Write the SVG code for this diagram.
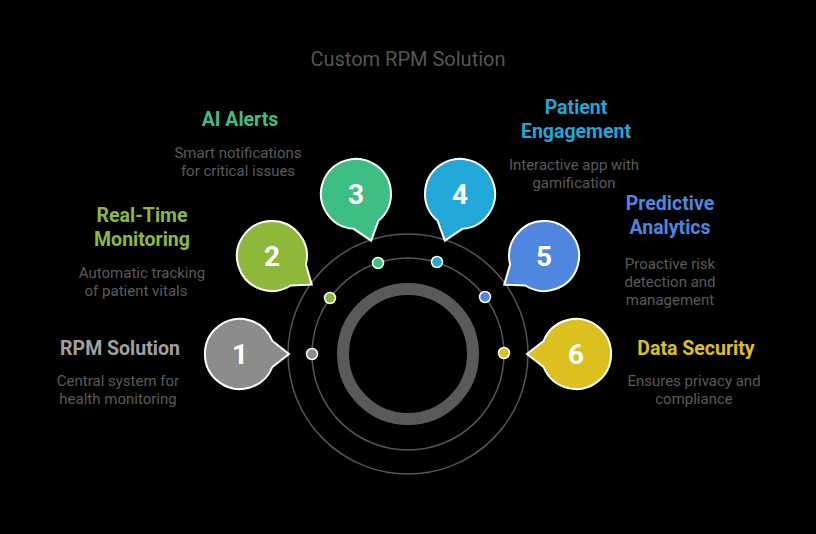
<svg xmlns="http://www.w3.org/2000/svg" width="816" height="534" viewBox="0 0 816 534">
<style>
.t{font-family:Roboto,"Liberation Sans",sans-serif;font-weight:bold;font-size:19.5px}
.d{font-family:Roboto,"Liberation Sans",sans-serif;font-size:15px;fill:#5a5a5a}
.n{font-family:Roboto,"Liberation Sans",sans-serif;font-weight:bold;font-size:28px;fill:#fff;text-anchor:middle}
.b{stroke:#fff;stroke-width:2}
.dot{stroke:#fff;stroke-width:1.5}
</style>
<defs>
<path id="bub" d="M32.4,-13 L49,0 L32.4,13 A35,35 0 1 1 32.4,-13 Z"/>
</defs>
<rect width="816" height="534" fill="#000"/>
<text x="408" y="66" text-anchor="middle" style="font-family:Roboto,'Liberation Sans',sans-serif;font-size:20px;fill:#555">Custom RPM Solution</text>
<g id="connectors" fill="none">
<circle cx="408" cy="354" r="120" stroke="#555" stroke-width="1.5"/>
<circle cx="408" cy="354" r="96" stroke="#555" stroke-width="1.5"/>
<circle cx="408" cy="354" r="65" stroke="#5a5a5a" stroke-width="12"/>
</g>
<g id="n1"><use href="#bub" transform="translate(240,354) rotate(0)" fill="#8c8c8c" class="b"/><text class="n" x="240" y="364">1</text><circle class="dot" cx="312" cy="354" r="5.5" fill="#8c8c8c"/>
<text class="t" x="120" y="355" text-anchor="middle" fill="#a0a0a0">RPM Solution</text>
<text class="d" x="118" y="386" text-anchor="middle">Central system for</text><text class="d" x="118" y="404" text-anchor="middle">health monitoring</text></g>
<g id="n2"><use href="#bub" transform="translate(272,256) rotate(35.8)" fill="#8db83a" class="b"/><text class="n" x="272" y="266">2</text><circle class="dot" cx="330" cy="298" r="5.5" fill="#8db83a"/>
<text class="t" x="142" y="222" text-anchor="middle" fill="#8db83a">Real-Time</text><text class="t" x="142" y="246" text-anchor="middle" fill="#8db83a">Monitoring</text>
<text class="d" x="142" y="278" text-anchor="middle">Automatic tracking</text><text class="d" x="136" y="296" text-anchor="middle">of patient vitals</text></g>
<g id="n3"><use href="#bub" transform="translate(356,194) rotate(72)" fill="#3dbf84" class="b"/><text class="n" x="356" y="204">3</text><circle class="dot" cx="378" cy="263" r="5.5" fill="#3dbf84"/>
<text class="t" x="240" y="126" text-anchor="middle" fill="#3dbf84">AI Alerts</text>
<text class="d" x="238" y="158" text-anchor="middle">Smart notifications</text><text class="d" x="238" y="176" text-anchor="middle">for critical issues</text></g>
<g id="n4"><use href="#bub" transform="translate(460,194) rotate(108)" fill="#21a7d8" class="b"/><text class="n" x="460" y="204">4</text><circle class="dot" cx="437" cy="262" r="5.5" fill="#21a7d8"/>
<text class="t" x="576" y="114" text-anchor="middle" fill="#21a7d8">Patient</text><text class="t" x="576" y="138" text-anchor="middle" fill="#21a7d8">Engagement</text>
<text class="d" x="574" y="170" text-anchor="middle">Interactive app with</text><text class="d" x="574" y="188" text-anchor="middle">gamification</text></g>
<g id="n5"><use href="#bub" transform="translate(544,256) rotate(144.2)" fill="#4e86e0" class="b"/><text class="n" x="544" y="266">5</text><circle class="dot" cx="485" cy="297" r="5.5" fill="#4e86e0"/>
<text class="t" x="670" y="210" text-anchor="middle" fill="#4e86e0">Predictive</text><text class="t" x="670" y="234" text-anchor="middle" fill="#4e86e0">Analytics</text>
<text class="d" x="670" y="269" text-anchor="middle">Proactive risk</text><text class="d" x="670" y="287" text-anchor="middle">detection and</text><text class="d" x="670" y="305" text-anchor="middle">management</text></g>
<g id="n6"><use href="#bub" transform="translate(576,354) rotate(180)" fill="#dcc01f" class="b"/><text class="n" x="576" y="364">6</text><circle class="dot" cx="504" cy="353" r="5.5" fill="#dcc01f"/>
<text class="t" x="696" y="355" text-anchor="middle" fill="#dcc01f">Data Security</text>
<text class="d" x="694" y="386" text-anchor="middle">Ensures privacy and</text><text class="d" x="694" y="404" text-anchor="middle">compliance</text></g>
</svg>
